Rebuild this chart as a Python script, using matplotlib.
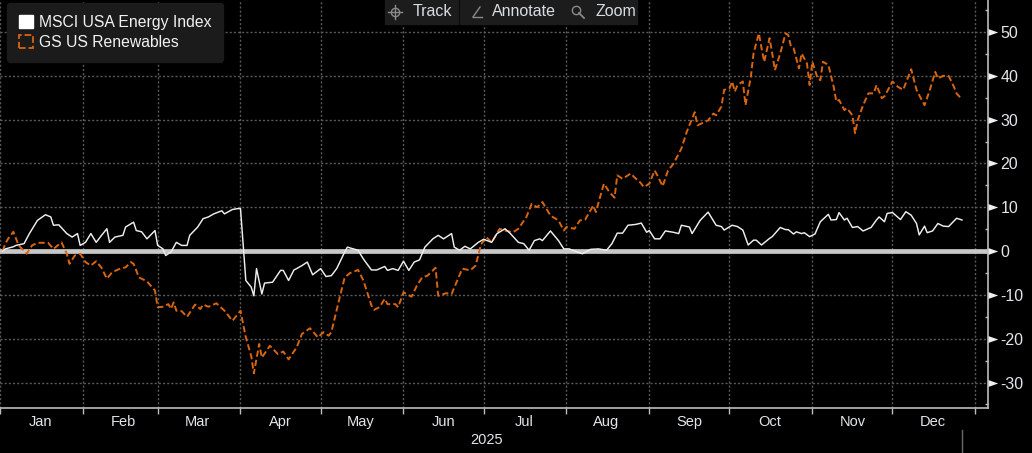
import numpy as np
import pandas as pd
import matplotlib
matplotlib.use('Agg')
import matplotlib.pyplot as plt
import matplotlib.dates as mdates
import matplotlib.transforms as mtransforms
from matplotlib.ticker import MultipleLocator, NullFormatter
from matplotlib.patches import Patch, Rectangle
from matplotlib.lines import Line2D
from matplotlib.path import Path

# --- data (2025, % change since start of year) ---
energy_dates = [
    '01-02', '01-03', '01-06', '01-07', '01-10', '01-12', '01-15', '01-18', '01-20', '01-21', '01-23', '01-26', '01-28', '01-30', '01-31',
    '02-02', '02-04', '02-06', '02-08', '02-10', '02-11', '02-13', '02-16', '02-17', '02-20', '02-21', '02-23', '02-25', '02-28',
    '03-01', '03-03', '03-04', '03-06', '03-08', '03-10', '03-12', '03-13', '03-16', '03-18', '03-20', '03-22', '03-25', '03-26', '03-29', '03-31',
    '04-01', '04-03', '04-05', '04-06', '04-07', '04-09', '04-10', '04-13', '04-16', '04-17', '04-19', '04-21', '04-22', '04-24', '04-26', '04-28',
    '05-01', '05-03', '05-05', '05-07', '05-10', '05-11', '05-15', '05-17', '05-20', '05-22', '05-25', '05-26', '05-28', '05-30',
    '06-01', '06-03', '06-05', '06-07', '06-09', '06-12', '06-14', '06-16', '06-19', '06-20', '06-22', '06-24', '06-26', '06-29',
    '07-01', '07-04', '07-06', '07-09', '07-11', '07-14', '07-16', '07-18', '07-20', '07-22', '07-23', '07-26', '07-29', '07-31',
    '08-02', '08-05', '08-07', '08-10', '08-13', '08-16', '08-18', '08-20', '08-22', '08-24', '08-27', '08-29', '08-31',
    '09-01', '09-03', '09-05', '09-07', '09-10', '09-12', '09-13', '09-16', '09-17', '09-20', '09-23', '09-26', '09-28', '09-29',
    '10-02', '10-04', '10-06', '10-08', '10-10', '10-11', '10-13', '10-16', '10-17', '10-20', '10-22', '10-23', '10-25', '10-26', '10-28', '10-29', '10-31',
    '11-02', '11-04', '11-07', '11-08', '11-10', '11-11', '11-13', '11-14', '11-16', '11-18', '11-20', '11-23', '11-25', '11-26', '11-28', '11-29',
    '12-01', '12-04', '12-06', '12-08', '12-10', '12-11', '12-13', '12-14', '12-16', '12-18', '12-20', '12-22', '12-25', '12-27',
]
energy_vals = [
    0, 0.5, 1, 1.3, 1.7, 4, 7, 8.3, 7.8, 5.9, 6, 4, 3.2, 4, 1.3,
    2, 4, 2, 3.6, 5.1, 2, 3.2, 3.6, 5.5, 6.6, 4.7, 4.4, 2.8, 4.7,
    1.3, 0.5, -1, -0.2, 2, 1.3, 1.3, 3.6, 5.5, 7.4, 7.8, 8.5, 9.2, 8.5, 9.5, 9.7,
    9.7, -6.7, -8.2, -10.2, -4, -9.8, -7.3, -7.1, -4.4, -4.4, -6.7, -4.3, -4, -3.3, -2.5, -5.4,
    -4, -5.8, -5.6, -4, -0.2, 0.9, 0.2, -1.8, -4.3, -4.3, -3.5, -4.4, -4, -4.4,
    -2.3, -4.4, -2.5, -2, 0.9, 2.8, 3.6, 2.8, 4, 0.9, 0.2, 1.1, 0.5, 2,
    2.7, 2, 4, 5.1, 4, 2, 1.7, 0.2, 2.4, 2.8, 2.4, 4.6, 2.4, 0.5,
    0.5, -0.2, -0.6, 0.4, 0.5, 0.2, 1.7, 4.1, 4.1, 5.9, 6.1, 6.4, 4.3,
    4.7, 2.8, 2.8, 4.6, 4.3, 4, 5.9, 5.5, 4, 7, 8.9, 5.9, 5.6, 4.8,
    5.9, 5.6, 4.8, 1.4, 2.5, 2.5, 1.4, 2.9, 3.3, 5.4, 4.9, 4.9, 3.9, 4.4, 4, 4.2, 3.3,
    3.9, 6.7, 8.4, 7.1, 7.2, 8.8, 7.1, 7.5, 5.4, 5.6, 4.6, 5.4, 7.1, 7.8, 6.7, 8.6,
    8.8, 7.2, 9, 8.2, 6.3, 3.7, 5.7, 4.2, 4.6, 6.3, 5.7, 5.6, 7.5, 7.1,
]

renew_dates = [
    '01-02', '01-03', '01-04', '01-06', '01-08', '01-11', '01-13', '01-15', '01-19', '01-21', '01-24', '01-26', '01-27', '01-29', '01-31',
    '02-02', '02-04', '02-06', '02-08', '02-10', '02-12', '02-15', '02-17', '02-19', '02-20', '02-22', '02-25', '02-28',
    '03-01', '03-03', '03-05', '03-06', '03-07', '03-08', '03-10', '03-12', '03-15', '03-17', '03-18', '03-20', '03-23', '03-26', '03-29',
    '04-01', '04-03', '04-05', '04-06', '04-08', '04-09', '04-12', '04-15', '04-17', '04-19', '04-22', '04-24', '04-27', '04-30',
    '05-02', '05-04', '05-05', '05-08', '05-10', '05-12', '05-15', '05-17', '05-20', '05-21', '05-23', '05-25', '05-26', '05-29', '05-30',
    '06-01', '06-04', '06-06', '06-08', '06-10', '06-13', '06-14', '06-17', '06-19', '06-21', '06-23', '06-26', '06-28', '06-30',
    '07-02', '07-04', '07-07', '07-09', '07-12', '07-14', '07-17', '07-19', '07-21', '07-23', '07-26', '07-29', '07-31',
    '08-01', '08-04', '08-06', '08-08', '08-11', '08-12', '08-15', '08-17', '08-19', '08-20', '08-22', '08-25', '08-27', '08-28', '08-30',
    '09-01', '09-03', '09-04', '09-06', '09-08', '09-10', '09-13', '09-15', '09-18', '09-19', '09-23', '09-25', '09-26', '09-28', '09-29',
    '10-01', '10-02', '10-03', '10-04', '10-06', '10-07', '10-09', '10-10', '10-12', '10-13', '10-14', '10-16', '10-17', '10-18', '10-20',
    '10-22', '10-23', '10-24', '10-25', '10-27', '10-28', '10-30', '10-31',
    '11-01', '11-03', '11-04', '11-05', '11-07', '11-09', '11-10', '11-11', '11-13', '11-14', '11-16', '11-17', '11-18', '11-20', '11-22',
    '11-24', '11-25', '11-27', '11-28',
    '12-01', '12-03', '12-05', '12-08', '12-10', '12-11', '12-13', '12-15', '12-17', '12-18', '12-20', '12-22', '12-24', '12-25', '12-27',
]
renew_vals = [
    0, 1.7, 2.8, 4.4, 1.3, -0.6, 1.3, 1.9, 1.9, 0.5, 2, -0.6, -2.9, -1, -0.6,
    -2.5, -3.3, -2.3, -3.8, -6.3, -4.8, -4, -3.7, -2.5, -2.9, -6, -6.9, -9,
    -12.8, -12.7, -12.1, -13.2, -11.7, -13.6, -13.7, -15, -12.2, -13.2, -12.2, -12.7, -11.9, -13.6, -15.9,
    -13.6, -19.7, -23.9, -27.9, -21.2, -24.3, -21.6, -23.5, -22.9, -24.7, -22, -18.9, -17.6, -19.7,
    -18.5, -19.3, -18.5, -10.9, -6, -5, -4.3, -6.7, -12.4, -13.4, -12.8, -10.9, -12.1, -12.1, -12.8,
    -9.4, -10.4, -7.9, -6, -5.6, -3.8, -10.2, -9.6, -9.8, -6.9, -4, -4.4, -3.3, 1.5,
    3.2, 2, 5.1, 4.7, 4.3, 5.1, 7.8, 10.8, 10, 11.2, 8.1, 7, 4.7,
    5.5, 5.1, 7, 7.2, 10.4, 8.9, 15.4, 13.5, 12.2, 17.3, 16.5, 17.7, 16.5, 16.1, 14.6,
    15.4, 18.4, 17.3, 14.8, 18.4, 19.9, 23.4, 27.2, 31.7, 28.7, 29.8, 31.4, 31, 33, 36.8,
    37.1, 38.7, 36.4, 37.9, 38.7, 33.3, 39.8, 45.1, 49.7, 46.3, 43.2, 48.6, 45.1, 41.3, 45.1,
    49.7, 49.3, 46.7, 46.3, 41.7, 45.1, 42.8, 37.9,
    43.2, 39.4, 39, 43.2, 42.5, 37.5, 34.1, 34.5, 32.2, 32.6, 31, 26.9, 29.9, 33.3, 36,
    36, 37.9, 34.9, 35.3,
    38.7, 37.5, 36.8, 41.5, 36.8, 35.6, 33.3, 36.8, 40.9, 39.4, 40, 40, 37.5, 36, 34.6,
]

series_names = ['MSCI USA Energy Index', 'GS US Renewables']
y_ticks = [-30, -20, -10, 0, 10, 20, 30, 40, 50]
toolbar_labels = ['Track', 'Annotate', 'Zoom']
year_label = '2025'

assert len(energy_dates) == len(energy_vals)
assert len(renew_dates) == len(renew_vals)

energy_x = pd.to_datetime(['2025-' + d for d in energy_dates])
renew_x = pd.to_datetime(['2025-' + d for d in renew_dates])

# --- style ---
BG = '#000000'
WHITE = '#eeeeee'
ORANGE = '#d9650f'
GRID = '#5a5a5a'
AXIS = '#bdbdbd'
TXT = '#e2e6ea'

plt.rcParams['font.family'] = ['Liberation Sans', 'DejaVu Sans']
plt.rcParams['axes.unicode_minus'] = False

W, H = 1032, 453
fig = plt.figure(figsize=(W / 100, H / 100), dpi=100, facecolor=BG)
ax = fig.add_axes([0, 1 - 408 / H, 988 / W, 408 / H], facecolor=BG)


def px(x):
    return x / W


def py(y):
    return 1 - y / H


ax.axhline(0, color='#c8c8c8', lw=3.4, zorder=2)
ax.plot(energy_x, energy_vals, color=WHITE, lw=1.05, zorder=4)
ax.plot(renew_x, renew_vals, color=ORANGE, lw=1.4, ls=(0, (3.2, 1.6)), zorder=3)

ax.set_xlim(pd.Timestamp('2025-01-01'), pd.Timestamp('2026-01-05 18:00'))
ax.set_ylim(-35.8, 57.3)

# x axis: month boundaries as ticks, month names centred
ax.xaxis.set_major_locator(mdates.MonthLocator())
ax.xaxis.set_major_formatter(NullFormatter())
ax.xaxis.set_minor_locator(mdates.MonthLocator(bymonthday=16))
ax.xaxis.set_minor_formatter(mdates.DateFormatter('%b'))
ax.tick_params(axis='x', which='major', direction='out', length=4.5, width=1, color=AXIS)
ax.tick_params(axis='x', which='minor', length=0, pad=5, labelsize=10.5, labelcolor=TXT)

# y axis on the right
ax.yaxis.tick_right()
ax.set_yticks(y_ticks)
ax.yaxis.set_minor_locator(MultipleLocator(5))
ax.tick_params(axis='y', which='major', length=0, pad=9, labelsize=11.5, labelcolor=TXT)
ax.tick_params(axis='y', which='minor', direction='in', length=2.5, width=1, color=AXIS)
tri = Path([(0, -0.35), (1, 0), (0, 0.35), (0, -0.35)],
           [Path.MOVETO, Path.LINETO, Path.LINETO, Path.CLOSEPOLY])
trans = mtransforms.blended_transform_factory(ax.transAxes, ax.transData)
ax.plot([1.0] * len(y_ticks), y_ticks, ls='none', marker=tri, ms=14, color='#f0f0f0',
        mec='none', transform=trans, clip_on=False, zorder=6)

ax.grid(True, which='major', color=GRID, lw=1, ls=(0, (1.5, 1.5)))
for s in ['left', 'top']:
    ax.spines[s].set_visible(False)
for s in ['bottom', 'right']:
    ax.spines[s].set_color(AXIS)
    ax.spines[s].set_linewidth(1.2)

year_trans = mtransforms.blended_transform_factory(ax.transData, ax.transAxes)
ax.text(pd.Timestamp('2025-07-02'), -0.078, year_label, transform=year_trans,
        ha='center', va='center', fontsize=10.5, color=TXT)

# legend
handles = [Patch(facecolor='white', edgecolor='white'),
           Patch(facecolor='none', edgecolor=ORANGE, linestyle='--', linewidth=1.3)]
leg = ax.legend(handles, series_names, loc='upper left', bbox_to_anchor=(7 / 988, 1 - 3 / 408),
                borderaxespad=0, handlelength=0.9, handleheight=0.9, handletextpad=0.4,
                labelspacing=0.32, borderpad=0.75, fontsize=11.3, frameon=True, fancybox=True,
                facecolor='#1b1b1b', edgecolor='#1b1b1b', framealpha=1)
for t in leg.get_texts():
    t.set_color('#f2f2f2')

# toolbar
buttons = [(385, 458), (460, 557), (558, 637)]
text_x = [432, 524, 616]
for (x0, x1), tx, label in zip(buttons, text_x, toolbar_labels):
    fig.add_artist(Rectangle((px(x0), py(24)), (x1 - x0) / W, 24 / H,
                             transform=fig.transFigure, color='#1c1c1c', zorder=5))
    fig.text(px(tx), py(12), label, ha='center', va='center', fontsize=11.5,
             color='#d8dde2', zorder=6)
ic = '#8a8a8a'
# track crosshair
fig.add_artist(Line2D([px(395)], [py(12)], marker='o', ms=6, mfc='none', mec=ic, mew=1,
                      transform=fig.transFigure, zorder=6))
fig.add_artist(Line2D([px(388), px(402)], [py(12), py(12)], color=ic, lw=1,
                      transform=fig.transFigure, zorder=6))
fig.add_artist(Line2D([px(395), px(395)], [py(5), py(19)], color=ic, lw=1,
                      transform=fig.transFigure, zorder=6))
# annotate angle
fig.add_artist(Line2D([px(473), px(480)], [py(17), py(7)], color=ic, lw=1,
                      transform=fig.transFigure, zorder=6))
fig.add_artist(Line2D([px(473), px(482)], [py(17), py(17)], color=ic, lw=1,
                      transform=fig.transFigure, zorder=6))
# zoom magnifier
fig.add_artist(Line2D([px(576)], [py(10)], marker='o', ms=6, mfc='none', mec=ic, mew=1,
                      transform=fig.transFigure, zorder=6))
fig.add_artist(Line2D([px(579), px(584)], [py(13), py(18)], color=ic, lw=1.3,
                      transform=fig.transFigure, zorder=6))

# last-value separator under the axis
fig.add_artist(Line2D([px(962), px(962)], [py(430), py(453)], color='#6a6a6a', lw=1,
                      transform=fig.transFigure))

fig.savefig('out.png', dpi=100, facecolor=BG)
